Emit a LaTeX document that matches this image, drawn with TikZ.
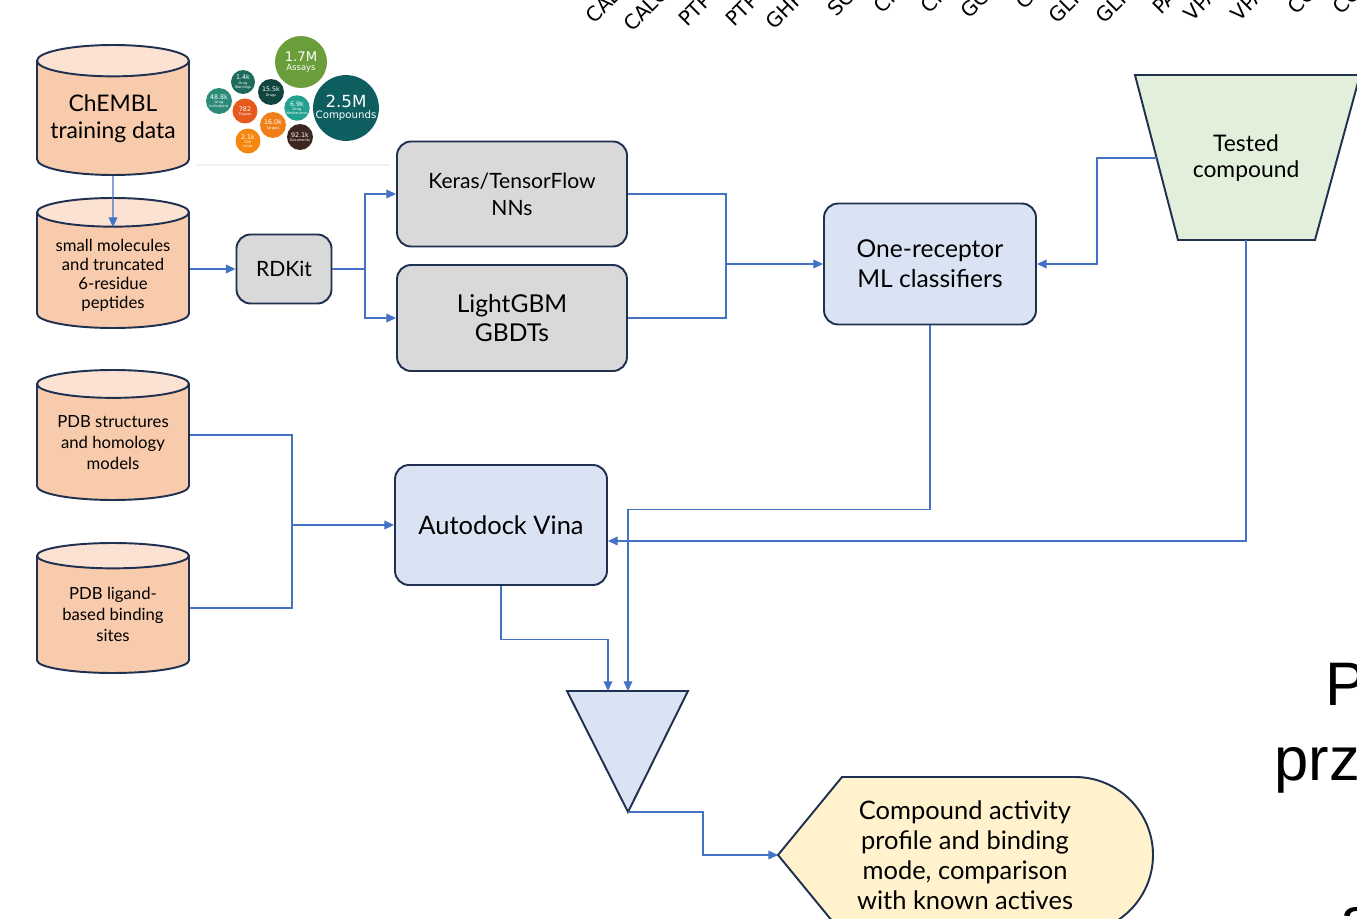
\documentclass[tikz,border=0pt]{standalone}
\usepackage{fontspec}
\setmainfont{Lato}
\newfontfamily\chartfont{DejaVu Sans}
\newfontfamily\slidefont{Liberation Sans}
\usetikzlibrary{shapes.geometric,arrows.meta,calc}

\definecolor{navy}{HTML}{1F3050}
\definecolor{peach}{HTML}{F8CBAD}
\definecolor{peachtop}{HTML}{FBE2D2}
\definecolor{greybox}{HTML}{D9D9D9}
\definecolor{bluebox}{HTML}{DAE3F3}
\definecolor{greenbox}{HTML}{E2EFDA}
\definecolor{yellowbox}{HTML}{FFF2CC}
\definecolor{linkblue}{HTML}{4472C4}

\begin{document}
\begin{tikzpicture}[x=0.02cm,y=-0.02cm,
    cyl/.style={cylinder, shape border rotate=90, aspect=0.25, draw=navy, line width=1.1pt,
        cylinder uses custom fill, cylinder body fill=peach, cylinder end fill=peachtop,
        minimum width=3.04cm, minimum height=2.6cm, align=center, inner sep=0pt, anchor=shape center},
    box/.style={rectangle, rounded corners=8pt, draw=navy, line width=1.1pt, align=center},
    link/.style={draw=linkblue, line width=0.6pt},
    arr/.style={link, -{Triangle[length=5.5pt,width=5pt]}},
    bubble/.style={circle, inner sep=0pt, text=white, align=center, font=\chartfont\fontsize{2}{2.4}\selectfont},
    tick/.style={rotate=45, anchor=base west, inner sep=0pt, font=\chartfont\fontsize{11.5}{13}\selectfont},
    slide/.style={anchor=base west, inner sep=0pt, font=\slidefont\fontsize{35}{38}\selectfont}]

    \useasboundingbox (0,0) rectangle (1357,919);
    \clip (0,0) rectangle (1357,919);

    % clipped axis labels of the chart above
    \node[tick] at (594,25) {CAL};
    \node[tick] at (632,33) {CALC};
    \node[tick] at (687,28) {PTP};
    \node[tick] at (734,28) {PTP};
    \node[tick] at (774,31) {GHR};
    \node[tick] at (836,18) {SC};
    \node[tick] at (882,15) {CI};
    \node[tick] at (929,15) {CI};
    \node[tick] at (969,20) {GC};
    \node[tick] at (1024,11) {G};
    \node[tick] at (1057,25) {GLI};
    \node[tick] at (1104,25) {GLI};
    \node[tick] at (1161,16) {PA};
    \node[tick] at (1192,23) {VPA};
    \node[tick] at (1239,23) {VPA};
    \node[tick] at (1296,16) {CO};
    \node[tick] at (1341,16) {CO};

    % clipped slide text on the right
    \node[slide] (slideP) at (1325,705) {P};
    \node[slide] (slidePrz) at (1274,780) {prz};
    \node[slide] (slideA) at (1340,940) {a};

    % ChEMBL bubble chart
    \draw[black!6, line width=1pt] (197,165) -- (390,165);
    \node[bubble, fill={rgb,255:red,106;green,158;blue,58}, minimum size=1.04cm] (assays) at (301,62)
        {{\fontsize{7.5}{8}\selectfont 1.7M}\\[1pt]{\fontsize{4.8}{5}\selectfont Assays}};
    \node[bubble, fill={rgb,255:red,14;green,94;blue,96}, minimum size=1.28cm] (compounds) at (346,108)
        {{\fontsize{9.5}{10}\selectfont 2.5M}\\[1pt]{\fontsize{5.8}{6}\selectfont Compounds}};
    \node[bubble, fill={rgb,255:red,29;green,107;blue,92}, minimum size=0.48cm] (warnings) at (243,82)
        {{\fontsize{3.6}{4}\selectfont 1.4k}\\Drug\\Warnings};
    \node[bubble, fill={rgb,255:red,43;green,138;blue,120}, minimum size=0.52cm] (indications) at (219,101)
        {{\fontsize{3.6}{4}\selectfont 48.8k}\\Drug\\Indications};
    \node[bubble, fill={rgb,255:red,16;green,70;blue,62}, minimum size=0.52cm] (drugs) at (271,92)
        {{\fontsize{3.6}{4}\selectfont 15.5k}\\Drugs};
    \node[bubble, fill={rgb,255:red,229;green,90;blue,28}, minimum size=0.5cm] (tissues) at (245,111)
        {{\fontsize{3.6}{4}\selectfont 782}\\Tissues};
    \node[bubble, fill={rgb,255:red,35;green,160;blue,144}, minimum size=0.48cm] (mechanisms) at (297,108)
        {{\fontsize{3.6}{4}\selectfont 6.9k}\\Drug\\Mechanisms};
    \node[bubble, fill={rgb,255:red,240;green,127;blue,26}, minimum size=0.52cm] (targets) at (273,125)
        {{\fontsize{3.6}{4}\selectfont 16.0k}\\Targets};
    \node[bubble, fill={rgb,255:red,245;green,135;blue,15}, minimum size=0.5cm] (celllines) at (248,141)
        {{\fontsize{3.6}{4}\selectfont 2.1k}\\Cell\\Lines};
    \node[bubble, fill={rgb,255:red,59;green,38;blue,32}, minimum size=0.52cm] (documents) at (300,137)
        {{\fontsize{3.6}{4}\selectfont 92.1k}\\Documents};

    % data sources
    \node[cyl, font=\fontsize{13}{15.3}\selectfont] (chembl) at (113,110) {ChEMBL\\training data};
    \node[cyl, font=\fontsize{9.5}{10.8}\selectfont] (small) at (113,263) {\\[2pt]small molecules\\and truncated\\6-residue\\peptides};
    \node[cyl, font=\fontsize{9.5}{12}\selectfont] (pdbs) at (113,435) {PDB structures\\and homology\\models};
    \node[cyl, font=\fontsize{9.5}{12}\selectfont] (pdbl) at (113,608) {PDB ligand-\\based binding\\sites};

    % processing boxes
    \node[box, fill=greybox, minimum width=1.9cm, minimum height=1.38cm, font=\fontsize{12}{14}\selectfont] (rdkit) at (284,269) {RDKit};
    \node[box, fill=greybox, minimum width=4.6cm, minimum height=2.1cm, font=\fontsize{12}{15.3}\selectfont] (keras) at (512,194) {Keras/TensorFlow\\NNs};
    \node[box, fill=greybox, minimum width=4.6cm, minimum height=2.12cm, font=\fontsize{14}{17}\selectfont] (lgbm) at (512,318) {LightGBM\\GBDTs};
    \node[box, fill=bluebox, minimum width=4.24cm, minimum height=2.42cm, font=\fontsize{14}{17}\selectfont] (onerec) at (930,264) {One-receptor\\ML classifiers};
    \node[box, fill=bluebox, minimum width=4.24cm, minimum height=2.4cm, font=\fontsize{14.5}{17}\selectfont] (vina) at (501,525) {Autodock Vina};

    % tested compound
    \draw[navy, line width=1.1pt, fill=greenbox] (1135,75) -- (1360,75) -- (1315,240) -- (1178,240) -- cycle;
    \node[align=center, font=\fontsize{13}{15.3}\selectfont] (tested) at (1246,158) {Tested\\compound};
    \coordinate (testedL) at (1157,158);
    \coordinate (testedB) at (1246,240);

    % merge
    \draw[navy, line width=1.1pt, fill=bluebox] (567,691) -- (688,691) -- (628,812) -- cycle;
    \coordinate (mergeL) at (608,691);
    \coordinate (mergeR) at (628,691);
    \coordinate (mergeB) at (628,812);

    % result
    \draw[navy, line width=1.1pt, fill=yellowbox] (778,855) -- (842,777) -- (1075,777)
        arc[start angle=-90, end angle=90, radius=78] -- (842,933) -- cycle;
    \node[align=center, font=\fontsize{14.5}{17}\selectfont] (result) at (965,855) {Compound activity\\profile and binding\\mode, comparison\\with known actives};
    \coordinate (resultL) at (778,855);

    % connectors
    \draw[arr] (chembl.south) -- ([yshift=-0.6cm]small.north);
    \draw[arr] (small.east |- rdkit.west) -- (rdkit.west);

    \coordinate (split) at (365,269);
    \draw[link] (rdkit.east) -- (split);
    \draw[arr] (split) |- (keras.west);
    \draw[arr] (split) |- (lgbm.west);

    \coordinate (join) at (726,264);
    \draw[link] (keras.east) -| (join);
    \draw[link] (lgbm.east) -| (join);
    \draw[arr] (join) -- (onerec.west);

    \draw[arr] (testedL) -- ++(-60,0) |- (onerec.east);

    \coordinate (dockjoin) at (292,525);
    \draw[link] (pdbs.east |- pdbs.shape center) -| (dockjoin);
    \draw[link] (pdbl.east |- pdbl.shape center) -| (dockjoin);
    \draw[arr] (dockjoin) -- (vina.west);

    \draw[arr] (testedB) |- ([yshift=-0.32cm]vina.east);
    \draw[arr] (onerec.south) -- ++(0,184) -| (mergeR);
    \draw[arr] (vina.south) -- ++(0,54) -| (mergeL);
    \draw[arr] (mergeB) -- ++(75,0) |- (resultL);

\end{tikzpicture}
\end{document}
